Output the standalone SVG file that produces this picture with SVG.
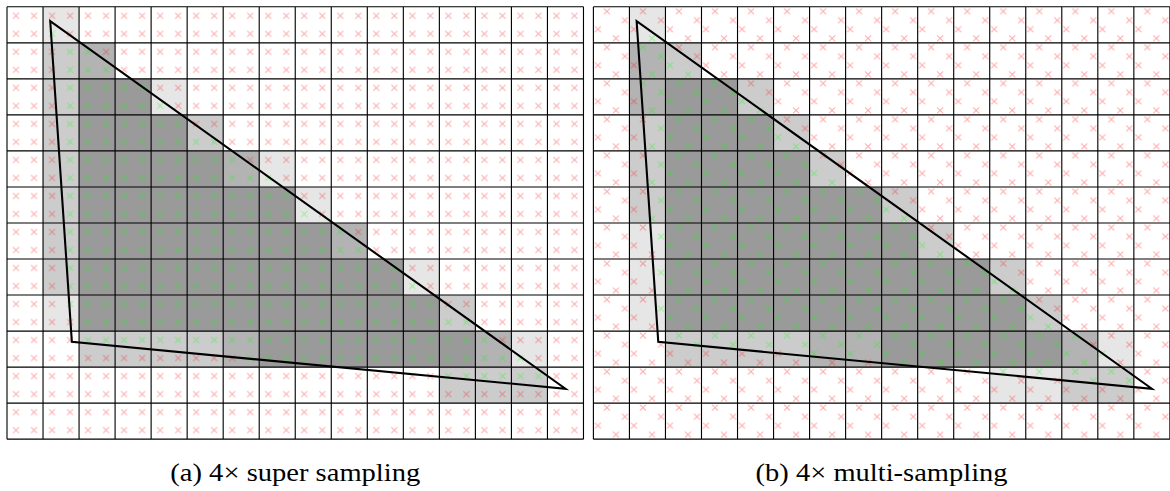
<svg xmlns="http://www.w3.org/2000/svg" width="1170" height="491" viewBox="0 0 1170 491">
<style>
.s1{fill:#e6e6e6}.s2{fill:#cccccc}.s3{fill:#b3b3b3}.s4{fill:#9a9a9a}
.grid{fill:none;stroke:#000;stroke-width:0.031}
.tri{fill:none;stroke:#000;stroke-width:0.058;stroke-linejoin:miter}
.xr{fill:none;stroke:#ff0000;stroke-opacity:0.32;stroke-width:0.03}
.xg{fill:none;stroke:#00ff00;stroke-opacity:0.34;stroke-width:0.03}
.cap{font-family:"Liberation Serif","Times New Roman",serif;font-size:25px;fill:#000}
</style>
<defs>
<path id="ssX" d="M.167 .167L.333 .333M.333 .167L.167 .333"/>
<path id="msX" d="M.292 .042l.166 .166m0 -.166l-.166 .166M.792 .292l.166 .166m0 -.166l-.166 .166M.042 .542l.166 .166m0 -.166l-.166 .166M.542 .792l.166 .166m0 -.166l-.166 .166"/>
<pattern id="ssR" patternUnits="userSpaceOnUse" width="0.5" height="0.5"><use href="#ssX" class="xr"/></pattern>
<pattern id="ssG" patternUnits="userSpaceOnUse" width="0.5" height="0.5"><use href="#ssX" class="xg"/></pattern>
<pattern id="msR" patternUnits="userSpaceOnUse" width="1" height="1"><use href="#msX" class="xr"/></pattern>
<pattern id="msG" patternUnits="userSpaceOnUse" width="1" height="1"><use href="#msX" class="xg"/></pattern>
<clipPath id="aGreen" clipPathUnits="userSpaceOnUse"><path d="M1 .5H1.5V1H1Z M1.5 1H2.5V1.5H1.5Z M1.5 1.5H3V2H1.5Z M1.5 2H4V2.5H1.5Z M1.5 2.5H4.5V3H1.5Z M1.5 3H5V3.5H1.5Z M1.5 3.5H6V4H1.5Z M1.5 4H6.5V4.5H1.5Z M1.5 4.5H7.5V5H1.5Z M1.5 5H8V5.5H1.5Z M1.5 5.5H8.5V6H1.5Z M1.5 6H9.5V6.5H1.5Z M1.5 6.5H10V7H1.5Z M1.5 7H11V7.5H1.5Z M1.5 7.5H11.5V8H1.5Z M1.5 8H12V8.5H1.5Z M2 8.5H13V9H2Z M2 9H13.5V9.5H2Z M6.5 9.5H14.5V10H6.5Z M12 10H15V10.5H12Z"/></clipPath>
<clipPath id="aRed" clipPathUnits="userSpaceOnUse"><path clip-rule="evenodd" d="M0 0H16V12H0Z M1 .5H1.5V1H1Z M1.5 1H2.5V1.5H1.5Z M1.5 1.5H3V2H1.5Z M1.5 2H4V2.5H1.5Z M1.5 2.5H4.5V3H1.5Z M1.5 3H5V3.5H1.5Z M1.5 3.5H6V4H1.5Z M1.5 4H6.5V4.5H1.5Z M1.5 4.5H7.5V5H1.5Z M1.5 5H8V5.5H1.5Z M1.5 5.5H8.5V6H1.5Z M1.5 6H9.5V6.5H1.5Z M1.5 6.5H10V7H1.5Z M1.5 7H11V7.5H1.5Z M1.5 7.5H11.5V8H1.5Z M1.5 8H12V8.5H1.5Z M2 8.5H13V9H2Z M2 9H13.5V9.5H2Z M6.5 9.5H14.5V10H6.5Z M12 10H15V10.5H12Z"/></clipPath>
<clipPath id="bGreen" clipPathUnits="userSpaceOnUse"><path d="M1 .75H2V1H1Z M1 1H2V1.25H1Z M1 1.25H2V1.5H1Z M2 1.5H3V1.75H2Z M1 1.75H3V2H1Z M1 2H4V2.25H1Z M1 2.25H4V2.5H1Z M2 2.5H5V2.75H2Z M1 2.75H5V3H1Z M2 3H5V3.25H2Z M1 3.25H5V3.5H1Z M2 3.5H6V3.75H2Z M1 3.75H6V4H1Z M2 4H6V4.25H2Z M1 4.25H6V4.5H1Z M2 4.5H7V4.75H2Z M1 4.75H7V5H1Z M2 5H8V5.25H2Z M1 5.25H8V5.5H1Z M2 5.5H9V5.75H2Z M1 5.75H9V6H1Z M2 6H9V6.25H2Z M1 6.25H9V6.5H1Z M2 6.5H10V6.75H2Z M2 6.75H10V7H2Z M2 7H11V7.25H2Z M1 7.25H11V7.5H1Z M2 7.5H12V7.75H2Z M2 7.75H12V8H2Z M2 8H12V8.25H2Z M1 8.25H12V8.5H1Z M2 8.5H13V8.75H2Z M2 8.75H13V9H2Z M2 9H14V9.25H2Z M2 9.25H13V9.5H2Z M6 9.5H15V9.75H6Z M8 9.75H14V10H8Z M11 10H15V10.25H11Z M13 10.25H15V10.5H13Z"/></clipPath>
<clipPath id="bRed" clipPathUnits="userSpaceOnUse"><path clip-rule="evenodd" d="M0 0H16V12H0Z M1 .75H2V1H1Z M1 1H2V1.25H1Z M1 1.25H2V1.5H1Z M2 1.5H3V1.75H2Z M1 1.75H3V2H1Z M1 2H4V2.25H1Z M1 2.25H4V2.5H1Z M2 2.5H5V2.75H2Z M1 2.75H5V3H1Z M2 3H5V3.25H2Z M1 3.25H5V3.5H1Z M2 3.5H6V3.75H2Z M1 3.75H6V4H1Z M2 4H6V4.25H2Z M1 4.25H6V4.5H1Z M2 4.5H7V4.75H2Z M1 4.75H7V5H1Z M2 5H8V5.25H2Z M1 5.25H8V5.5H1Z M2 5.5H9V5.75H2Z M1 5.75H9V6H1Z M2 6H9V6.25H2Z M1 6.25H9V6.5H1Z M2 6.5H10V6.75H2Z M2 6.75H10V7H2Z M2 7H11V7.25H2Z M1 7.25H11V7.5H1Z M2 7.5H12V7.75H2Z M2 7.75H12V8H2Z M2 8H12V8.25H2Z M1 8.25H12V8.5H1Z M2 8.5H13V8.75H2Z M2 8.75H13V9H2Z M2 9H14V9.25H2Z M2 9.25H13V9.5H2Z M6 9.5H15V9.75H6Z M8 9.75H14V10H8Z M11 10H15V10.25H11Z M13 10.25H15V10.5H13Z"/></clipPath>
<path id="gridLines" d="M0 0V12M1 0V12M2 0V12M3 0V12M4 0V12M5 0V12M6 0V12M7 0V12M8 0V12M9 0V12M10 0V12M11 0V12M12 0V12M13 0V12M14 0V12M15 0V12M16 0V12M0 0H16M0 1H16M0 2H16M0 3H16M0 4H16M0 5H16M0 6H16M0 7H16M0 8H16M0 9H16M0 10H16M0 11H16M0 12H16"/>
</defs>
<rect width="1170" height="491" fill="#fff"/>

<g id="panel-a" transform="translate(7 6.8) scale(36.03)">
  <g id="a-shading">
    <rect class="s1" x="1" y="0" width="1" height="1"/>
    <rect class="s2" x="1" y="1" width="1" height="1"/><rect class="s3" x="2" y="1" width="1" height="1"/>
    <rect class="s2" x="1" y="2" width="1" height="1"/><rect class="s4" x="2" y="2" width="2" height="1"/><rect class="s1" x="4" y="2" width="1" height="1"/>
    <rect class="s2" x="1" y="3" width="1" height="1"/><rect class="s4" x="2" y="3" width="3" height="1"/><rect class="s2" x="5" y="3" width="1" height="1"/>
    <rect class="s2" x="1" y="4" width="1" height="1"/><rect class="s4" x="2" y="4" width="4" height="1"/><rect class="s3" x="6" y="4" width="1" height="1"/><rect class="s1" x="7" y="4" width="1" height="1"/>
    <rect class="s2" x="1" y="5" width="1" height="1"/><rect class="s4" x="2" y="5" width="6" height="1"/><rect class="s1" x="8" y="5" width="1" height="1"/>
    <rect class="s2" x="1" y="6" width="1" height="1"/><rect class="s4" x="2" y="6" width="7" height="1"/><rect class="s3" x="9" y="6" width="1" height="1"/>
    <rect class="s2" x="1" y="7" width="1" height="1"/><rect class="s4" x="2" y="7" width="9" height="1"/><rect class="s1" x="11" y="7" width="1" height="1"/>
    <rect class="s1" x="1" y="8" width="1" height="1"/><rect class="s4" x="2" y="8" width="10" height="1"/><rect class="s2" x="12" y="8" width="1" height="1"/>
    <rect class="s2" x="2" y="9" width="4" height="1"/><rect class="s3" x="6" y="9" width="1" height="1"/><rect class="s4" x="7" y="9" width="6" height="1"/><rect class="s3" x="13" y="9" width="1" height="1"/><rect class="s1" x="14" y="9" width="1" height="1"/>
    <rect class="s2" x="12" y="10" width="3" height="1"/>
  </g>
  <use href="#gridLines" class="grid"/>
  <g id="a-samples">
    <rect width="16" height="12" fill="url(#ssR)" clip-path="url(#aRed)"/>
    <rect width="16" height="12" fill="url(#ssG)" clip-path="url(#aGreen)"/>
  </g>
  <path id="a-triangle" class="tri" d="M1.2 .4L1.8 9.3L15.5 10.6Z"/>
</g>

<g id="panel-b" transform="translate(593.4 6.8) scale(36.03)">
  <g id="b-shading">
    <rect class="s1" x="1" y="0" width="1" height="1"/>
    <rect class="s3" x="1" y="1" width="1" height="1"/><rect class="s2" x="2" y="1" width="1" height="1"/>
    <rect class="s3" x="1" y="2" width="1" height="1"/><rect class="s4" x="2" y="2" width="2" height="1"/><rect class="s2" x="4" y="2" width="1" height="1"/>
    <rect class="s2" x="1" y="3" width="1" height="1"/><rect class="s4" x="2" y="3" width="3" height="1"/><rect class="s2" x="5" y="3" width="1" height="1"/>
    <rect class="s2" x="1" y="4" width="1" height="1"/><rect class="s4" x="2" y="4" width="4" height="1"/><rect class="s2" x="6" y="4" width="1" height="1"/>
    <rect class="s2" x="1" y="5" width="1" height="1"/><rect class="s4" x="2" y="5" width="6" height="1"/><rect class="s2" x="8" y="5" width="1" height="1"/>
    <rect class="s1" x="1" y="6" width="1" height="1"/><rect class="s4" x="2" y="6" width="7" height="1"/><rect class="s2" x="9" y="6" width="1" height="1"/>
    <rect class="s1" x="1" y="7" width="1" height="1"/><rect class="s4" x="2" y="7" width="9" height="1"/><rect class="s2" x="11" y="7" width="1" height="1"/>
    <rect class="s1" x="1" y="8" width="1" height="1"/><rect class="s4" x="2" y="8" width="10" height="1"/><rect class="s2" x="12" y="8" width="1" height="1"/>
    <rect class="s2" x="2" y="9" width="4" height="1"/><rect class="s3" x="6" y="9" width="2" height="1"/><rect class="s4" x="8" y="9" width="5" height="1"/><rect class="s3" x="13" y="9" width="1" height="1"/><rect class="s1" x="14" y="9" width="1" height="1"/>
    <rect class="s1" x="11" y="10" width="2" height="1"/><rect class="s2" x="13" y="10" width="2" height="1"/>
  </g>
  <use href="#gridLines" class="grid"/>
  <g id="b-samples">
    <rect width="16" height="12" fill="url(#msR)" clip-path="url(#bRed)"/>
    <rect width="16" height="12" fill="url(#msG)" clip-path="url(#bGreen)"/>
  </g>
  <path id="b-triangle" class="tri" d="M1.2 .4L1.8 9.3L15.5 10.6Z"/>
</g>

<g id="caption-a"><text class="cap" x="295.3" y="481" text-anchor="middle" textLength="250" lengthAdjust="spacingAndGlyphs">(a) 4× super sampling</text></g>
<g id="caption-b"><text class="cap" x="881.6" y="481" text-anchor="middle" textLength="252" lengthAdjust="spacingAndGlyphs">(b) 4× multi-sampling</text></g>
</svg>
